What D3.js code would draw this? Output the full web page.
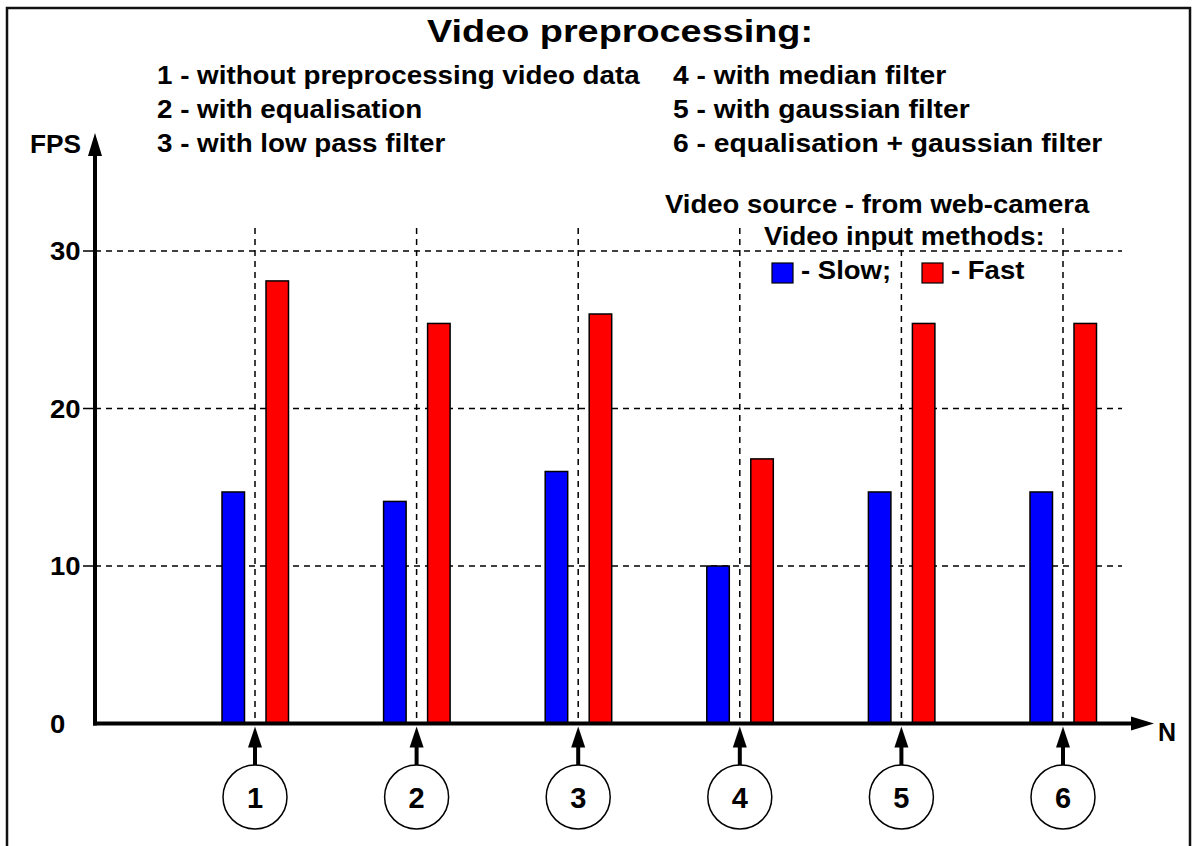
<!DOCTYPE html>
<html><head><meta charset="utf-8">
<script src="https://cdn.jsdelivr.net/npm/d3@7"></script>
<style>
html,body{margin:0;padding:0;background:#fff;}
text{font-family:"Liberation Sans",Arial,sans-serif;font-weight:bold;fill:#000;}
</style></head>
<body>
<svg id="chart" width="1192" height="846"></svg>
<script>
const categories = ["1","2","3","4","5","6"];
const slowValues = [14.7, 14.1, 16.0, 10.0, 14.7, 14.7];
const fastValues = [28.1, 25.4, 26.0, 16.8, 25.4, 25.4];
const yTicks = [0, 10, 20, 30];
const titleText = "Video preprocessing:";
const legendLeft = ["1 - without preprocessing video data","2 - with equalisation","3 - with low pass filter"];
const legendRight = ["4 - with median filter","5 - with gaussian filter","6 - equalisation + gaussian filter"];
const sourceText = "Video source - from web-camera";
const methodsText = "Video input methods:";
const seriesNames = ["- Slow;","- Fast"];
const seriesColors = ["#0000ff","#ff0000"];

const svg = d3.select("#chart");
const x0 = 95, y0 = 723.5;
const y = d3.scaleLinear().domain([0,30]).range([y0, 251]);
const x = d3.scalePoint().domain(categories).range([255, 1063]);

// widen glyphs to match the wide bold face of the original
function stretch(sel, f){
  sel.each(function(){
    const w = this.getComputedTextLength();
    d3.select(this).attr("textLength", w*f).attr("lengthAdjust","spacingAndGlyphs");
  });
  return sel;
}

// frame
svg.append("rect").attr("x",7).attr("y",8).attr("width",1183).attr("height",860)
  .attr("fill","none").attr("stroke","#111").attr("stroke-width",2.5);

// title
stretch(svg.append("text").attr("x",427).attr("y",42)
  .attr("font-size",31).text(titleText), 1.22);
stretch(svg.selectAll(".ll").data(legendLeft).enter().append("text")
  .attr("x",157).attr("y",(d,i)=>84+i*34).attr("font-size",25).text(d=>d), 1.11);
stretch(svg.selectAll(".lr").data(legendRight).enter().append("text")
  .attr("x",673).attr("y",(d,i)=>84+i*34).attr("font-size",25).text(d=>d), 1.13);

// grid horizontal
const gridH = svg.append("g");
yTicks.filter(d=>d>0).forEach(t=>{
  gridH.append("line").attr("x1",83).attr("x2",x0).attr("y1",y(t)).attr("y2",y(t))
    .attr("stroke","#000").attr("stroke-width",1.5);
  gridH.append("line").attr("x1",x0).attr("x2",1122).attr("y1",y(t)).attr("y2",y(t))
    .attr("stroke","#000").attr("stroke-width",1.5).attr("stroke-dasharray","6,5");
});
// grid vertical
svg.append("g").selectAll("line").data(categories).enter().append("line")
  .attr("x1",d=>x(d)).attr("x2",d=>x(d)).attr("y1",228).attr("y2",y0)
  .attr("stroke","#000").attr("stroke-width",1.5).attr("stroke-dasharray","6,5");

// tick labels
stretch(svg.selectAll(".yt").data(yTicks).enter().append("text")
  .attr("x",50).attr("y",d=>y(d)+9).attr("font-size",25).text(d=>d), 1.1);

// legend texts right
stretch(svg.append("text").attr("x",665).attr("y",213).attr("font-size",25).text(sourceText), 1.1);
stretch(svg.append("text").attr("x",764).attr("y",245).attr("font-size",25).text(methodsText), 1.1);
const legX = [772, 922];
seriesNames.forEach((n,i)=>{
  svg.append("rect").attr("x",legX[i]).attr("y",263).attr("width",21).attr("height",20)
    .attr("fill",seriesColors[i]).attr("stroke","#000").attr("stroke-width",1.2);
  stretch(svg.append("text").attr("x",legX[i]+29).attr("y",279).attr("font-size",25).text(n), 1.1);
});

// bars
const bw = 22.5;
const bars = svg.append("g");
bars.selectAll(".slow").data(categories).enter().append("rect")
  .attr("x",d=>x(d)-33).attr("width",bw)
  .attr("y",(d,i)=>y(slowValues[i])).attr("height",(d,i)=>y0-y(slowValues[i]))
  .attr("fill",seriesColors[0]).attr("stroke","#000").attr("stroke-width",1.5);
bars.selectAll(".fast").data(categories).enter().append("rect")
  .attr("x",d=>x(d)+11).attr("width",bw)
  .attr("y",(d,i)=>y(fastValues[i])).attr("height",(d,i)=>y0-y(fastValues[i]))
  .attr("fill",seriesColors[1]).attr("stroke","#000").attr("stroke-width",1.5);

// axes
svg.append("line").attr("x1",x0).attr("x2",x0).attr("y1",y0+2).attr("y2",150)
  .attr("stroke","#000").attr("stroke-width",4);
svg.append("path").attr("d",`M${x0},133 L${x0-7},156 L${x0+7},156 Z`).attr("fill","#000");
svg.append("line").attr("x1",x0-2).attr("x2",1135).attr("y1",y0).attr("y2",y0)
  .attr("stroke","#000").attr("stroke-width",4);
svg.append("path").attr("d",`M1154,${y0} L1131,${y0-7} L1131,${y0+7} Z`).attr("fill","#000");
stretch(svg.append("text").attr("x",30).attr("y",153).attr("font-size",25).text("FPS"), 1.05);
svg.append("text").attr("x",1158).attr("y",y0+17).attr("font-size",25).text("N");

// category markers
const mk = svg.append("g");
categories.forEach(c=>{
  const cx = x(c);
  mk.append("line").attr("x1",cx).attr("x2",cx).attr("y1",765).attr("y2",742)
    .attr("stroke","#000").attr("stroke-width",4);
  mk.append("path").attr("d",`M${cx},${y0+3} L${cx-7},${y0+24} L${cx+7},${y0+24} Z`).attr("fill","#000");
  mk.append("circle").attr("cx",cx).attr("cy",797).attr("r",32)
    .attr("fill","#fff").attr("stroke","#000").attr("stroke-width",1.5);
  mk.append("text").attr("x",cx).attr("y",808).attr("text-anchor","middle")
    .attr("font-size",29).text(c);
});
</script>
</body></html>
